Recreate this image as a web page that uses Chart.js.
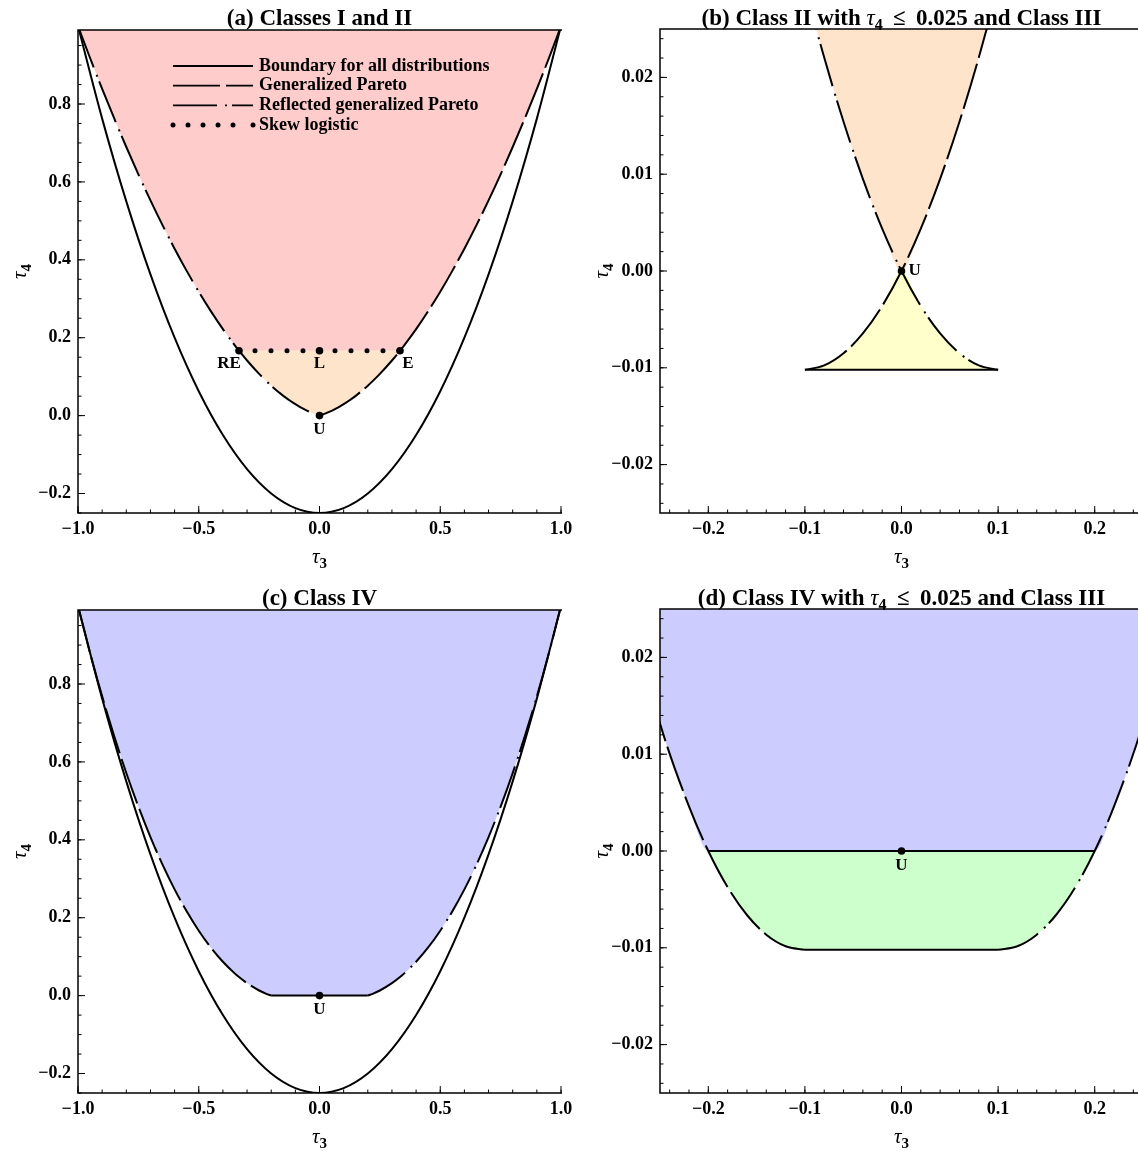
<!DOCTYPE html>
<html>
<head>
<meta charset="utf-8">
<script src="https://cdn.jsdelivr.net/npm/chart.js@4.4.0/dist/chart.umd.min.js"></script>
<style>
  html, body { margin: 0; padding: 0; background: #fff; overflow: hidden; }
  #wrap { position: relative; width: 1138px; height: 1151px; overflow: hidden; }
  .panel { position: absolute; width: 580px; height: 580px; }
</style>
</head>
<body>
<div id="wrap">
  <div class="panel" style="left:0;top:0"><canvas id="chartA" width="580" height="580"></canvas></div>
  <div class="panel" style="left:582px;top:0"><canvas id="chartB" width="580" height="580"></canvas></div>
  <div class="panel" style="left:0;top:580px"><canvas id="chartC" width="580" height="580"></canvas></div>
  <div class="panel" style="left:582px;top:580px"><canvas id="chartD" width="580" height="580"></canvas></div>
</div>
<script>
// tau3 grid shared by the Pareto curves (finer near zero for the zoomed panels)
const tau3 = [-1, -0.95, -0.9, -0.85, -0.8, -0.75, -0.7, -0.65, -0.6, -0.55, -0.5, -0.45, -0.4, -0.35, -0.33333,
  -0.3, -0.25, -0.22, -0.2, -0.18, -0.16, -0.14, -0.12, -0.1, -0.08, -0.06, -0.04, -0.02, 0,
  0.02, 0.04, 0.06, 0.08, 0.1, 0.12, 0.14, 0.16, 0.18, 0.2, 0.22, 0.25, 0.3, 0.33333,
  0.35, 0.4, 0.45, 0.5, 0.55, 0.6, 0.65, 0.7, 0.75, 0.8, 0.85, 0.9, 0.95, 1];

// generalized Pareto tau4
const gpdTau4 = [1, 0.8796, 0.7683, 0.6657, 0.5714, 0.4853, 0.4070, 0.3362, 0.2727, 0.2163, 0.1667, 0.12363, 0.08696, 0.05645, 0.04762,
  0.03191, 0.013158, 0.004603, 0, -0.003734, -0.006612, -0.008642, -0.009836, -0.010204, -0.009756, -0.008502, -0.006452, -0.003614, 0,
  0.004382, 0.009524, 0.015415, 0.022047, 0.029412, 0.0375, 0.046304, 0.055814, 0.066023, 0.076923, 0.088506, 0.10714, 0.14151, 0.16667,
  0.17991, 0.22222, 0.26835, 0.31818, 0.37162, 0.42857, 0.48894, 0.55263, 0.61957, 0.68966, 0.76282, 0.83898, 0.91807, 1];

// reflected generalized Pareto tau4
const rgpdTau4 = [1, 0.91807, 0.83898, 0.76282, 0.68966, 0.61957, 0.55263, 0.48894, 0.42857, 0.37162, 0.31818, 0.26835, 0.22222, 0.17991, 0.16667,
  0.14151, 0.10714, 0.088506, 0.076923, 0.066023, 0.055814, 0.046304, 0.0375, 0.029412, 0.022047, 0.015415, 0.009524, 0.004382, 0,
  -0.003614, -0.006452, -0.008502, -0.009756, -0.010204, -0.009836, -0.008642, -0.006612, -0.003734, 0, 0.004603, 0.013158, 0.03191, 0.04762,
  0.05645, 0.08696, 0.12363, 0.1667, 0.2163, 0.2727, 0.3362, 0.4070, 0.4853, 0.5714, 0.6657, 0.7683, 0.8796, 1];

// boundary for all distributions
const bndTau3 = [-1, -0.9, -0.8, -0.7, -0.6, -0.5, -0.4, -0.3, -0.2, -0.1, 0, 0.1, 0.2, 0.3, 0.4, 0.5, 0.6, 0.7, 0.8, 0.9, 1];
const bndTau4 = [1, 0.7625, 0.55, 0.3625, 0.2, 0.0625, -0.05, -0.1375, -0.2, -0.2375, -0.25, -0.2375, -0.2, -0.1375, -0.05, 0.0625, 0.2, 0.3625, 0.55, 0.7625, 1];

// skew logistic
const skewTau3 = [-0.33333, 0.33333];
const skewTau4 = [0.16667, 0.16667];

// horizontal edges
const zeroTau3 = [-0.2, 0.2];
const zeroTau4 = [0, 0];
const class3Tau3 = [-0.1, 0.1];
const class3Tau4 = [-0.010204, -0.010204];

// labelled points
const ptsTau3A = [-0.33333, 0, 0.33333, 0];
const ptsTau4A = [0.16667, 0.16667, 0.16667, 0];
const ptsLabelA = ['RE', 'L', 'E', 'U'];
const uTau3 = [0];
const uTau4 = [0];
const uLabel = ['U'];

// ticks
const xTicksWide = [-1, -0.5, 0, 0.5, 1];
const yTicksWide = [-0.2, 0, 0.2, 0.4, 0.6, 0.8];
const xTicksZoom = [-0.2, -0.1, 0, 0.1, 0.2];
const yTicksZoom = [-0.02, -0.01, 0, 0.01, 0.02];

const legendLabels = ['Boundary for all distributions', 'Generalized Pareto', 'Reflected generalized Pareto', 'Skew logistic'];

const SERIF = '"Liberation Serif", "Times New Roman", serif';
const PINK = 'rgb(255,204,204)';
const ORANGE = 'rgb(255,228,204)';
const YELLOW = 'rgb(255,255,204)';
const BLUE = 'rgb(204,204,255)';
const GREEN = 'rgb(204,255,204)';
const GPD_DASH = [47, 6];
const RGPD_DASH = [44, 8, 2, 5];

// region edges built from the curves
const upperEdge = tau3.map((x, i) => Math.max(gpdTau4[i], rgpdTau4[i]));
const lowerEdge = tau3.map((x, i) => Math.min(gpdTau4[i], rgpdTau4[i]));
const pinkEdge = upperEdge.map(v => Math.max(v, skewTau4[0]));
const blueEdge = lowerEdge.map(v => Math.max(v, zeroTau4[0]));
const greenEdge = tau3.map((x, i) => x <= class3Tau3[0] ? gpdTau4[i] : (x >= class3Tau3[1] ? rgpdTau4[i] : class3Tau4[0]));

function pts(xs, ys, lo = -Infinity, hi = Infinity) {
  const out = [];
  xs.forEach((x, i) => { if (x >= lo - 1e-9 && x <= hi + 1e-9) out.push({ x, y: ys[i] }); });
  return out;
}

function lineDs(data, dash) {
  return { data, borderColor: '#000', borderWidth: 2, borderDash: dash || [], pointRadius: 0, fill: false, cubicInterpolationMode: 'monotone' };
}
function fillDs(data, color, target) {
  return { data, borderColor: 'transparent', borderWidth: 0, backgroundColor: color, pointRadius: 0, fill: target, cubicInterpolationMode: 'monotone' };
}
function dotDs(data) {
  return { data, showLine: false, pointRadius: 3.8, pointBackgroundColor: '#000', pointBorderWidth: 0, fill: false };
}
function skewDs() {
  return { data: pts(skewTau3, skewTau4), borderColor: '#000', borderWidth: 5, borderDash: [0, 16], borderCapStyle: 'round', pointRadius: 0, fill: false };
}

const fmt = (v, d) => (v < -1e-12 ? '\u2212' : '') + Math.abs(v).toFixed(d);

function drawRuns(ctx, runs, x, y, align) {
  let w = 0;
  runs.forEach(r => { ctx.font = r.f; w += ctx.measureText(r.t).width; });
  let cx = align === 'center' ? x - w / 2 : x;
  ctx.textAlign = 'left';
  runs.forEach(r => {
    ctx.font = r.f;
    ctx.fillText(r.t, cx, y + (r.dy || 0));
    cx += ctx.measureText(r.t).width;
  });
}

function makeDecor(cfg) {
  return {
    id: 'decor',
    afterDatasetsDraw(chart) {
      const ctx = chart.ctx, a = chart.chartArea;
      const xs = chart.scales.x, ys = chart.scales.y;
      ctx.save();
      ctx.strokeStyle = '#000';
      ctx.fillStyle = '#000';

      // frame (top, left, bottom)
      ctx.lineWidth = 1.5;
      ctx.beginPath();
      ctx.moveTo(a.right + 1, a.top);
      ctx.lineTo(a.left, a.top);
      ctx.lineTo(a.left, a.bottom);
      ctx.lineTo(a.right + 1, a.bottom);
      ctx.stroke();

      // inner ticks
      ctx.lineWidth = 1;
      ctx.beginPath();
      const xMinor = [], yMinor = [];
      for (let k = Math.ceil(cfg.xMin / cfg.xMinor - 1e-6); k * cfg.xMinor <= cfg.xMax + 1e-9; k++) xMinor.push(k * cfg.xMinor);
      for (let k = Math.ceil(cfg.yMin / cfg.yMinor - 1e-6); k * cfg.yMinor <= cfg.yMax + 1e-9; k++) yMinor.push(k * cfg.yMinor);
      xMinor.forEach(v => { const p = xs.getPixelForValue(v); ctx.moveTo(p, a.bottom); ctx.lineTo(p, a.bottom - 3.5); });
      yMinor.forEach(v => { const p = ys.getPixelForValue(v); ctx.moveTo(a.left, p); ctx.lineTo(a.left + 3.5, p); });
      cfg.xTicks.forEach(v => { const p = xs.getPixelForValue(v); ctx.moveTo(p, a.bottom); ctx.lineTo(p, a.bottom - 7); });
      cfg.yTicks.forEach(v => { const p = ys.getPixelForValue(v); ctx.moveTo(a.left, p); ctx.lineTo(a.left + 7, p); });
      ctx.stroke();

      // point labels
      ctx.font = 'bold 17px ' + SERIF;
      ctx.textBaseline = 'middle';
      cfg.labels.forEach((lab, i) => {
        const px = xs.getPixelForValue(cfg.labelX[i]) + cfg.labelOff[i][0];
        const py = ys.getPixelForValue(cfg.labelY[i]) + cfg.labelOff[i][1];
        ctx.textAlign = cfg.labelOff[i][2] || 'center';
        ctx.fillText(lab, px, py);
      });

      // legend
      if (cfg.legend) {
        const x0 = a.left + 95, x1 = a.left + 175;
        legendLabels.forEach((lab, i) => {
          const y = a.top + 36 + i * 19.7;
          ctx.lineWidth = 1.8;
          ctx.lineCap = 'butt';
          if (i < 3) {
            ctx.setLineDash([[], GPD_DASH, RGPD_DASH][i]);
            ctx.beginPath(); ctx.moveTo(x0, y); ctx.lineTo(x1, y); ctx.stroke();
            ctx.setLineDash([]);
          } else {
            for (let k = 0; k < 5; k++) { ctx.beginPath(); ctx.arc(x0 + 15 * k, y, 2.5, 0, Math.PI * 2); ctx.fill(); }
            ctx.beginPath(); ctx.arc(x1, y, 2.5, 0, Math.PI * 2); ctx.fill();
          }
          ctx.font = 'bold 18px ' + SERIF;
          ctx.textAlign = 'left';
          ctx.textBaseline = 'middle';
          ctx.fillText(lab, x1 + 6, y);
        });
      }

      // title
      const cx = (a.left + a.right) / 2;
      ctx.textBaseline = 'alphabetic';
      drawRuns(ctx, cfg.title, cx, 25, 'center');

      // axis titles
      drawRuns(ctx, [{ t: '\u03c4', f: 'italic 21px ' + SERIF }, { t: '3', f: 'bold 15px ' + SERIF, dy: 5 }], cx, 563, 'center');
      ctx.save();
      ctx.translate(26, (a.top + a.bottom) / 2);
      ctx.rotate(-Math.PI / 2);
      drawRuns(ctx, [{ t: '\u03c4', f: 'italic 21px ' + SERIF }, { t: '4', f: 'bold 15px ' + SERIF, dy: 5 }], 0, 0, 'center');
      ctx.restore();

      ctx.restore();
    }
  };
}

function makeChart(id, datasets, cfg) {
  const tickFont = { family: SERIF, weight: 'bold', size: 18 };
  return new Chart(document.getElementById(id), {
    type: 'line',
    data: { datasets },
    options: {
      responsive: false,
      animation: false,
      events: [],
      layout: { padding: { left: 0, right: 19, top: cfg.top, bottom: 0 } },
      plugins: { legend: { display: false }, tooltip: { enabled: false }, title: { display: false } },
      scales: {
        x: {
          type: 'linear', min: cfg.xMin, max: cfg.xMax,
          afterBuildTicks: s => { s.ticks = cfg.xTicks.map(v => ({ value: v })); },
          afterFit: s => { s.height = 67; },
          grid: { display: false, drawTicks: false },
          border: { display: false },
          ticks: { padding: 6, maxRotation: 0, autoSkip: false, color: '#000', font: tickFont, callback: v => fmt(v, cfg.xDec) }
        },
        y: {
          type: 'linear', min: cfg.yMin, max: cfg.yMax,
          afterBuildTicks: s => { s.ticks = cfg.yTicks.map(v => ({ value: v })); },
          afterFit: s => { s.width = 78; },
          grid: { display: false, drawTicks: false },
          border: { display: false },
          ticks: { padding: 7, autoSkip: false, color: '#000', font: tickFont, callback: v => fmt(v, cfg.yDec) }
        }
      }
    },
    plugins: [makeDecor(cfg)]
  });
}

const B23 = 'bold 23px ' + SERIF, I23 = 'italic 23px ' + SERIF, S16 = 'bold 16px ' + SERIF;
const SP = '\u2009';

const wide = { xMin: -1, xMax: 1, yMin: -0.25, yMax: 0.99, xTicks: xTicksWide, yTicks: yTicksWide, xDec: 1, yDec: 1, xMinor: 0.1, yMinor: 0.05, top: 30 };
const zoom = { xMin: -0.25, xMax: 0.25, yMin: -0.025, yMax: 0.025, xTicks: xTicksZoom, yTicks: yTicksZoom, xDec: 1, yDec: 2, xMinor: 0.02, yMinor: 0.002, top: 29 };

// (a) Classes I and II
makeChart('chartA', [
  dotDs(pts(ptsTau3A, ptsTau4A)),
  skewDs(),
  lineDs(pts(tau3, gpdTau4, 0, 1), GPD_DASH),
  lineDs(pts(tau3, rgpdTau4, -1, 0), RGPD_DASH),
  lineDs(pts(bndTau3, bndTau4)),
  fillDs(pts(tau3, upperEdge, skewTau3[0], skewTau3[1]), ORANGE, { value: skewTau4[0] }),
  fillDs(pts(tau3, pinkEdge), PINK, 'end')
], Object.assign({}, wide, {
  title: [{ t: '(a) Classes I and II', f: B23 }],
  labels: ptsLabelA, labelX: ptsTau3A, labelY: ptsTau4A,
  labelOff: [[-10, 13], [0, 13], [8, 13], [0, 14]],
  legend: true
}));

// (b) Class II with tau4 <= 0.025 and Class III
makeChart('chartB', [
  dotDs(pts(uTau3, uTau4)),
  lineDs(pts(class3Tau3, class3Tau4)),
  lineDs(pts(tau3, gpdTau4, class3Tau3[0], 0.25), GPD_DASH),
  lineDs(pts(tau3, rgpdTau4, -0.25, class3Tau3[1]), RGPD_DASH),
  fillDs(pts(tau3, lowerEdge, class3Tau3[0], class3Tau3[1]), YELLOW, { value: class3Tau4[0] }),
  fillDs(pts(tau3, upperEdge), ORANGE, 'end')
], Object.assign({}, zoom, {
  title: [{ t: '(b) Class II with ', f: B23 }, { t: '\u03c4', f: I23 }, { t: '4', f: S16, dy: 5 }, { t: SP + ' \u2264 ' + SP + '0.025 and Class III', f: B23 }],
  labels: uLabel, labelX: uTau3, labelY: uTau4,
  labelOff: [[7, 0, 'left']]
}));

// (c) Class IV
makeChart('chartC', [
  dotDs(pts(uTau3, uTau4)),
  lineDs(pts(zeroTau3, zeroTau4)),
  lineDs(pts(tau3, gpdTau4, -1, zeroTau3[0]), GPD_DASH),
  lineDs(pts(tau3, rgpdTau4, zeroTau3[1], 1), RGPD_DASH),
  lineDs(pts(bndTau3, bndTau4)),
  fillDs(pts(tau3, blueEdge), BLUE, 'end')
], Object.assign({}, wide, {
  title: [{ t: '(c) Class IV', f: B23 }],
  labels: uLabel, labelX: uTau3, labelY: uTau4,
  labelOff: [[0, 14]]
}));

// (d) Class IV with tau4 <= 0.025 and Class III
makeChart('chartD', [
  dotDs(pts(uTau3, uTau4)),
  lineDs(pts(zeroTau3, zeroTau4)),
  lineDs(pts(class3Tau3, class3Tau4)),
  lineDs(pts(tau3, gpdTau4, -1, class3Tau3[0]), GPD_DASH),
  lineDs(pts(tau3, rgpdTau4, class3Tau3[1], 1), RGPD_DASH),
  fillDs(pts(tau3, greenEdge, zeroTau3[0], zeroTau3[1]), GREEN, { value: zeroTau4[0] }),
  fillDs(pts(tau3, blueEdge), BLUE, 'end')
], Object.assign({}, zoom, {
  title: [{ t: '(d) Class IV with ', f: B23 }, { t: '\u03c4', f: I23 }, { t: '4', f: S16, dy: 5 }, { t: SP + ' \u2264 ' + SP + '0.025 and Class III', f: B23 }],
  labels: uLabel, labelX: uTau3, labelY: uTau4,
  labelOff: [[0, 15]]
}));
</script>
</body>
</html>
